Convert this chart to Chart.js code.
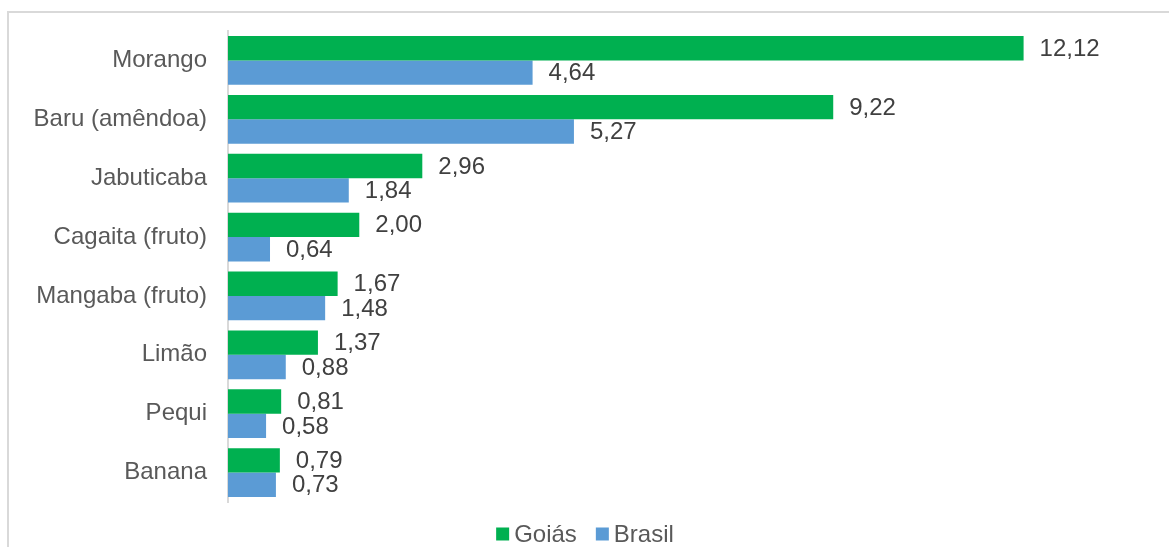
<!DOCTYPE html>
<html>
<head>
<meta charset="utf-8">
<script src="https://cdn.jsdelivr.net/npm/chart.js@4"></script>
<style>
  html, body { margin: 0; padding: 0; background: #fff; overflow: hidden; }
  .frame {
    position: absolute; left: 7px; top: 11px; width: 1200px; height: 600px;
    border-left: 2px solid #d9d9d9; border-top: 2px solid #d9d9d9;
  }
  .chartBox { position: absolute; left: 0; top: 0; width: 1169px; height: 547px; }
</style>
</head>
<body>
<div class="frame"></div>
<div class="chartBox"><canvas id="myChart"></canvas></div>
<script>
let categories = ['Morango', 'Baru (amêndoa)', 'Jabuticaba', 'Cagaita (fruto)', 'Mangaba (fruto)', 'Limão', 'Pequi', 'Banana'];
let goias = [12.12, 9.22, 2.96, 2.00, 1.67, 1.37, 0.81, 0.79];
let brasil = [4.64, 5.27, 1.84, 0.64, 1.48, 0.88, 0.58, 0.73];

let fontFamily = '"Liberation Sans", Arial, sans-serif';

// value labels to the right of each bar, with comma decimals
let barLabels = {
  id: 'barLabels',
  afterDatasetsDraw(chart) {
    let ctx = chart.ctx;
    ctx.save();
    ctx.font = '24px ' + fontFamily;
    ctx.fillStyle = '#404040';
    ctx.textAlign = 'left';
    ctx.textBaseline = 'middle';
    chart.data.datasets.forEach(function(ds, i) {
      chart.getDatasetMeta(i).data.forEach(function(bar, j) {
        let txt = ds.data[j].toFixed(2).replace('.', ',');
        ctx.fillText(txt, bar.x + 16, bar.y + 1);
      });
    });
    ctx.restore();
  }
};

// compact legend row under the plot (square + name, tight spacing)
let bottomLegend = {
  id: 'bottomLegend',
  afterDraw(chart) {
    let ctx = chart.ctx;
    let box = 13, textGap = 5, itemGap = 19;
    ctx.save();
    ctx.font = '24px ' + fontFamily;
    ctx.textBaseline = 'middle';
    ctx.textAlign = 'left';
    let items = chart.data.datasets.map(function(ds) {
      return { text: ds.label, color: ds.backgroundColor, w: ctx.measureText(ds.label).width };
    });
    let total = 0;
    items.forEach(function(it, i) {
      total += box + textGap + it.w + (i > 0 ? itemGap : 0);
    });
    let x = 585 - total / 2;
    let y = 534;
    items.forEach(function(it) {
      ctx.fillStyle = it.color;
      ctx.fillRect(x, y - 6.5, box, box);
      ctx.fillStyle = '#595959';
      ctx.fillText(it.text, x + box + textGap, y + 1);
      x += box + textGap + it.w + itemGap;
    });
    ctx.restore();
  }
};

new Chart(document.getElementById('myChart'), {
  type: 'bar',
  data: {
    labels: categories,
    datasets: [
      { label: 'Goiás', data: goias, backgroundColor: '#00b050' },
      { label: 'Brasil', data: brasil, backgroundColor: '#5b9bd5' }
    ]
  },
  options: {
    indexAxis: 'y',
    responsive: true,
    maintainAspectRatio: false,
    animation: false,
    categoryPercentage: 0.83,
    barPercentage: 1,
    layout: { padding: { top: 31, right: 22, left: 0, bottom: 45 } },
    scales: {
      x: { display: false, min: 0, max: 14 },
      y: {
        grid: { display: false },
        border: { display: true, color: '#d9d9d9', width: 2 },
        ticks: { color: '#595959', padding: 13, font: { family: fontFamily, size: 24 } },
        afterFit: function(scale) { scale.width = 228; }
      }
    },
    plugins: {
      tooltip: { enabled: false },
      legend: { display: false }
    }
  },
  plugins: [barLabels, bottomLegend]
});
</script>
</body>
</html>
